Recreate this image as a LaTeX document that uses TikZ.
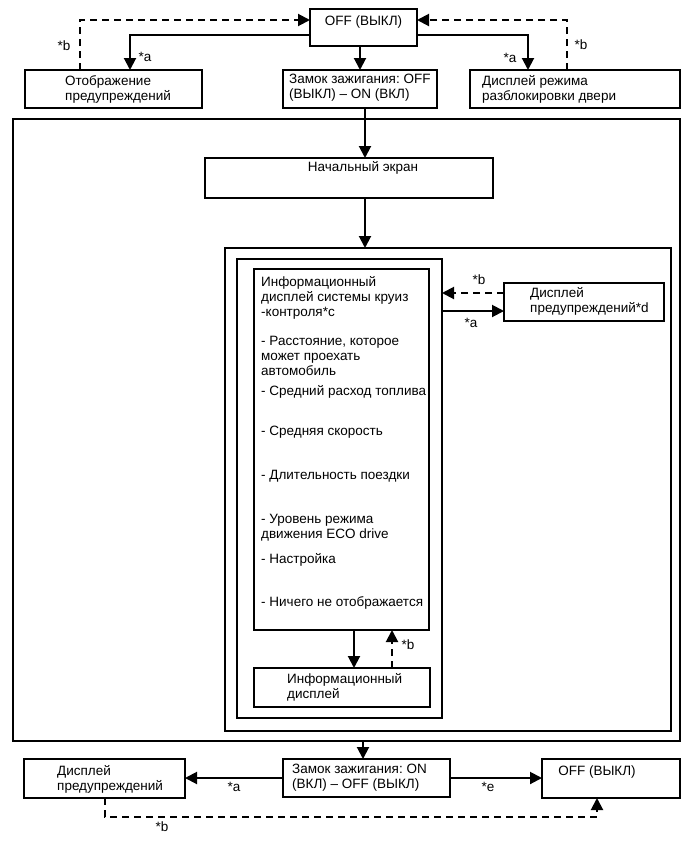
\documentclass[tikz,border=0pt]{standalone}
\usepackage{fontspec}
\setmainfont{Liberation Sans}
\usetikzlibrary{arrows.meta}
\frenchspacing
\begin{document}
\begin{tikzpicture}[x=1pt,y=-1pt,
  box/.style={draw,line width=1.1pt,anchor=north west,inner sep=0pt,outer sep=0pt},
  txt/.style={inner sep=0pt,align=left,font=\fontsize{13.5}{15}\selectfont},
  lbl/.style={inner sep=0pt,font=\fontsize{13.5}{15}\selectfont},
  conn/.style={line width=2pt,-{Triangle[width=12pt,length=12pt]}},
  dconn/.style={line width=2pt,dash pattern=on 7pt off 5pt,-{Triangle[width=12pt,length=12pt]}}]
\useasboundingbox (0,0) rectangle (691,855);
% top row
\node[box,minimum width=107pt,minimum height=37pt] (off1) at (310,9) {};
\node[lbl] (off1t) at (363.5,22) {OFF (ВЫКЛ)};
\node[box,minimum width=177pt,minimum height=38pt] (warn1) at (25,70) {};
\node[txt,anchor=west] (warn1t) at (65,89) {Отображение\\предупреждений};
\node[box,minimum width=154pt,minimum height=38pt] (ign1) at (283,70) {};
\node[txt,anchor=west] (ign1t) at (289,88) {Замок зажигания: OFF\\(ВЫКЛ) – ON (ВКЛ)};
\node[box,minimum width=210pt,minimum height=38pt] (door) at (470,70) {};
\node[txt,anchor=west] (doort) at (482,89) {Дисплей режима\\разблокировки двери};
\coordinate (c1) at (80,20);
\coordinate (c2) at (130,35);
\coordinate (c3) at (528,35);
\coordinate (c4) at (567,20);
\draw[dconn] (warn1.north -| c1) -- (c1) -- (off1.west |- c1);
\draw[conn] (off1.west |- c2) -- (c2) -- (warn1.north -| c2);
\draw[conn] (off1.south -| ign1.north) -- (ign1.north);
\draw[conn] (off1.east |- c3) -- (c3) -- (door.north -| c3);
\draw[dconn] (door.north -| c4) -- (c4) -- (off1.east |- c4);
\node[lbl] (la1) at (145,57) {*a};
\node[lbl] (lb1) at (64,46) {*b};
\node[lbl] (la2) at (510,58) {*a};
\node[lbl] (lb2) at (581,45) {*b};
% frames
\node[box,minimum width=667pt,minimum height=622pt] (fr1) at (13,119) {};
\node[box,minimum width=288pt,minimum height=40pt] (start) at (205,158) {};
\node[lbl] (startt) at (363,168) {Начальный экран};
\node[box,minimum width=446pt,minimum height=483pt] (fr2) at (225,248) {};
\node[box,minimum width=205pt,minimum height=459pt] (fr3) at (237,259) {};
\node[box,minimum width=175pt,minimum height=361pt] (info) at (254,269) {};
\coordinate (c5) at (365,0);
\draw[conn] (ign1.south -| c5) -- (start.north -| c5);
\draw[conn] (start.south -| c5) -- (fr2.north -| c5);
\node[txt,anchor=west] (i0) at (261,298) {Информационный\\дисплей системы круиз\\-контроля*c};
\node[txt,anchor=west] (i1) at (261,356) {- Расстояние, которое\\может проехать\\автомобиль};
\node[txt,anchor=west] (i2) at (261,392) {- Средний расход топлива};
\node[txt,anchor=west] (i3) at (261,432) {- Средняя скорость};
\node[txt,anchor=west] (i4) at (261,476) {- Длительность поездки};
\node[txt,anchor=west] (i5) at (261,527.5) {- Уровень режима\\движения ECO drive};
\node[txt,anchor=west] (i6) at (261,560) {- Настройка};
\node[txt,anchor=west] (i7) at (261,603) {- Ничего не отображается};
\node[box,minimum width=176pt,minimum height=39pt] (infod) at (254,668) {};
\node[txt,anchor=west] (infodt) at (287,687) {Информационный\\дисплей};
\coordinate (c6) at (354,0);
\coordinate (c7) at (392,0);
\draw[conn] (info.south -| c6) -- (infod.north -| c6);
\draw[dconn] (infod.north -| c7) -- (info.south -| c7);
\node[lbl] (lb3) at (408,645) {*b};
\node[box,minimum width=160pt,minimum height=38pt] (warnd) at (504,283) {};
\node[txt,anchor=west] (warndt) at (530,301) {Дисплей\\предупреждений*d};
\coordinate (c8) at (0,293);
\coordinate (c9) at (0,311);
\draw[dconn] (warnd.west |- c8) -- (fr3.east |- c8);
\draw[conn] (fr3.east |- c9) -- (warnd.west |- c9);
\node[lbl] (lb4) at (479,280) {*b};
\node[lbl] (la3) at (471,323) {*a};
% bottom row
\node[box,minimum width=167pt,minimum height=38pt] (ign2) at (283,759) {};
\node[txt,anchor=west] (ign2t) at (292,778) {Замок зажигания: ON\\(ВКЛ) – OFF (ВЫКЛ)};
\node[box,minimum width=161pt,minimum height=39pt] (warn2) at (24,759) {};
\node[txt,anchor=west] (warn2t) at (57,779) {Дисплей\\предупреждений};
\node[box,minimum width=138pt,minimum height=39pt] (off2) at (542,759) {};
\node[lbl] (off2t) at (597,772) {OFF (ВЫКЛ)};
\coordinate (c10) at (363,0);
\coordinate (c11) at (0,778);
\coordinate (c12) at (105,817);
\coordinate (c13) at (597,817);
\draw[conn] (fr1.south -| c10) -- (ign2.north -| c10);
\draw[conn] (ign2.west |- c11) -- (warn2.east |- c11);
\draw[conn] (ign2.east |- c11) -- (off2.west |- c11);
\draw[dconn] (warn2.south -| c12) -- (c12) -- (c13) -- (off2.south -| c13);
\node[lbl] (la4) at (234,787) {*a};
\node[lbl] (le1) at (488,787) {*e};
\node[lbl] (lb5) at (162,827) {*b};
\end{tikzpicture}
\end{document}
